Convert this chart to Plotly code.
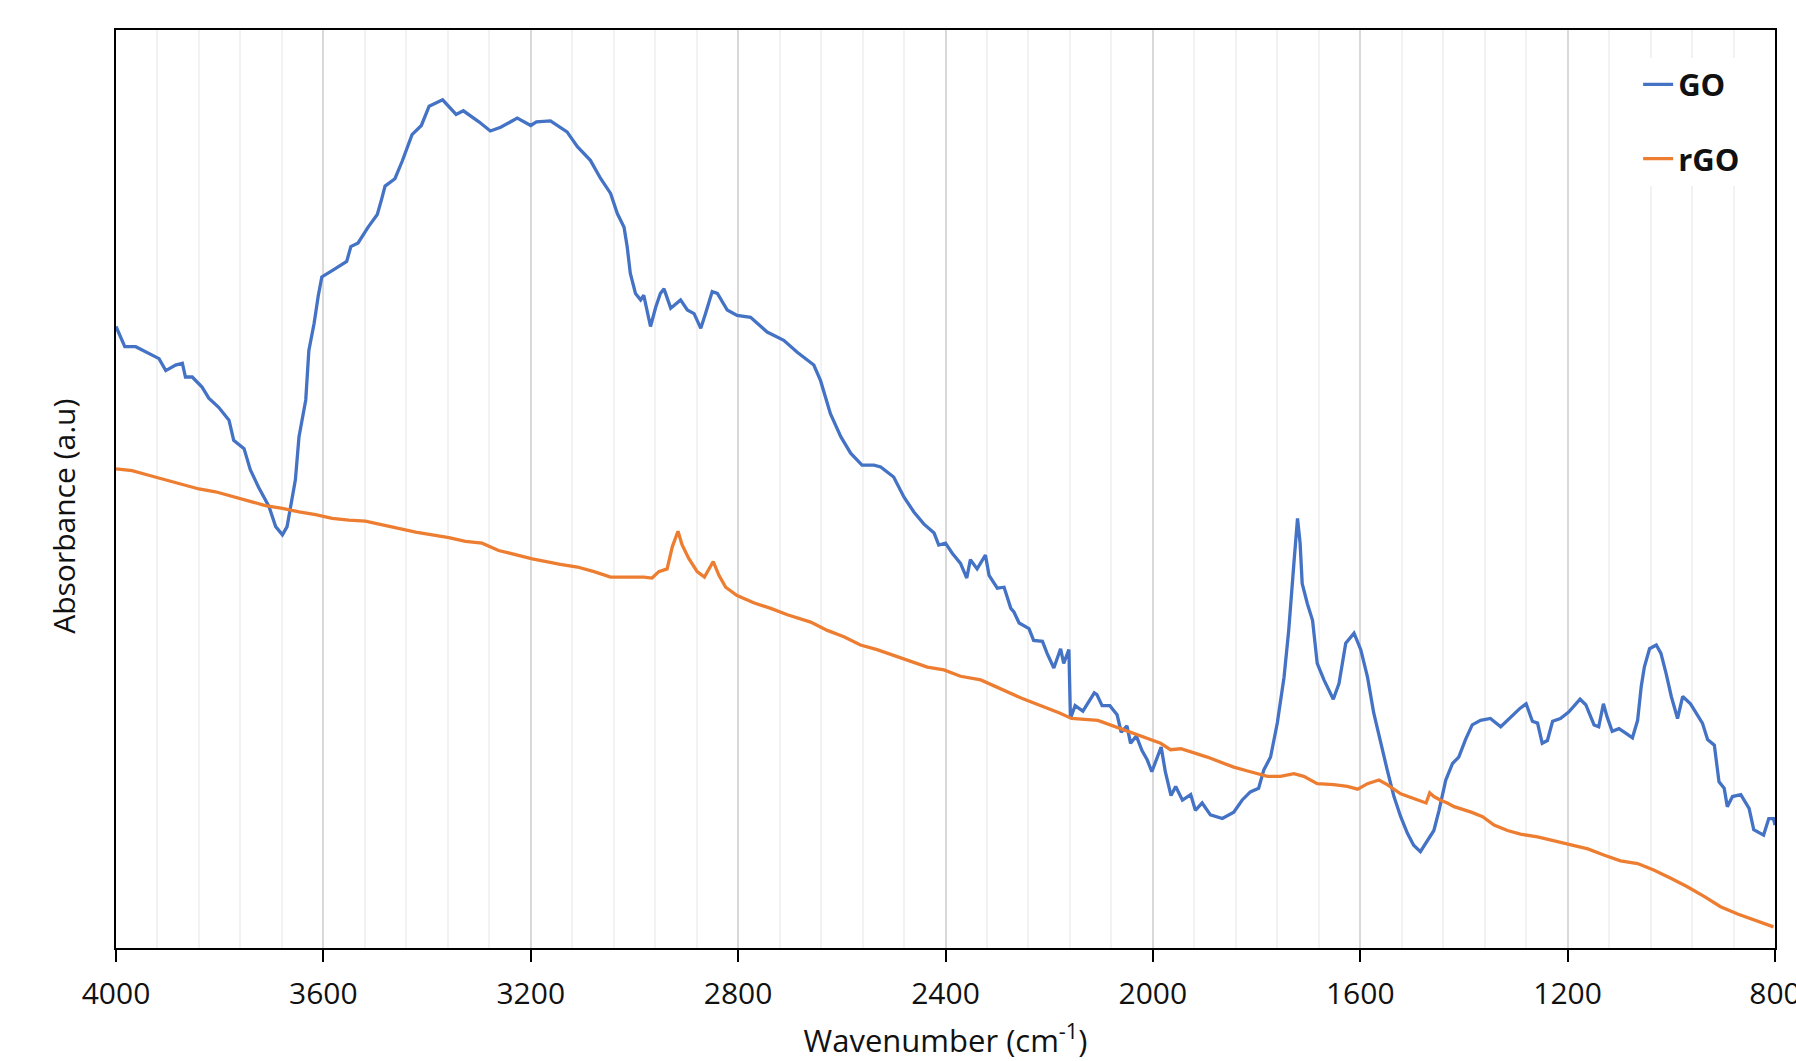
import plotly.graph_objects as go

# ---- data ----
go_wavenumber = [4000, 3988, 3983, 3962, 3937, 3917, 3904, 3885, 3872, 3866, 3853, 3834, 3821, 3802, 3782,
                 3773, 3753, 3741, 3725, 3705, 3692, 3679, 3670, 3654, 3647, 3634, 3628, 3618, 3610, 3603,
                 3580, 3555, 3547, 3533, 3514, 3496, 3488, 3481, 3462, 3448, 3429, 3411, 3396, 3370, 3344,
                 3330, 3300, 3278, 3258, 3226, 3200, 3189, 3162, 3130, 3110, 3085, 3065, 3046, 3033, 3020,
                 3014, 3008, 2998, 2988, 2982, 2969, 2959, 2950, 2943, 2930, 2911, 2898, 2885, 2872, 2863,
                 2850, 2840, 2821, 2802, 2776, 2744, 2712, 2686, 2654, 2641, 2631, 2622, 2602, 2583, 2561,
                 2538, 2525, 2500, 2480, 2461, 2442, 2422, 2413, 2400, 2387, 2371, 2359, 2352, 2339, 2323,
                 2316, 2300, 2287, 2274, 2268, 2258, 2239, 2230, 2213, 2204, 2191, 2178, 2172, 2162, 2159,
                 2150, 2135, 2113, 2108, 2098, 2083, 2069, 2061, 2050, 2043, 2032, 2021, 2011, 2002, 1992,
                 1984, 1976, 1965, 1956, 1943, 1927, 1918, 1905, 1889, 1866, 1844, 1828, 1812, 1796, 1786,
                 1773, 1760, 1747, 1738, 1728, 1721, 1716, 1712, 1702, 1692, 1683, 1670, 1652, 1641, 1628,
                 1612, 1599, 1586, 1574, 1561, 1548, 1535, 1522, 1509, 1497, 1484, 1471, 1458, 1448, 1435,
                 1422, 1410, 1397, 1384, 1368, 1349, 1329, 1310, 1292, 1280, 1268, 1258, 1249, 1239, 1229,
                 1214, 1198, 1176, 1165, 1149, 1140, 1131, 1124, 1114, 1101, 1088, 1075, 1065, 1058, 1052,
                 1042, 1029, 1020, 1010, 1000, 988, 978, 963, 950, 940, 930, 917, 908, 898, 892,
                 882, 866, 850, 841, 822, 812, 803, 800]
go_absorbance = [0.677, 0.662, 0.655, 0.655, 0.648, 0.642, 0.629, 0.635, 0.637, 0.622, 0.622, 0.611, 0.599, 0.589, 0.575,
                 0.553, 0.544, 0.521, 0.502, 0.481, 0.459, 0.450, 0.459, 0.510, 0.557, 0.597, 0.651, 0.680, 0.710, 0.731,
                 0.739, 0.748, 0.764, 0.768, 0.785, 0.799, 0.815, 0.830, 0.838, 0.857, 0.886, 0.896, 0.917, 0.924, 0.908,
                 0.912, 0.900, 0.890, 0.894, 0.904, 0.896, 0.900, 0.901, 0.889, 0.873, 0.858, 0.838, 0.822, 0.800, 0.785,
                 0.764, 0.735, 0.713, 0.706, 0.711, 0.677, 0.698, 0.713, 0.718, 0.697, 0.706, 0.695, 0.691, 0.675, 0.691,
                 0.715, 0.713, 0.695, 0.689, 0.687, 0.671, 0.662, 0.649, 0.635, 0.618, 0.600, 0.582, 0.557, 0.539, 0.526,
                 0.526, 0.524, 0.513, 0.491, 0.475, 0.462, 0.452, 0.439, 0.441, 0.430, 0.419, 0.403, 0.423, 0.413, 0.428,
                 0.406, 0.392, 0.393, 0.370, 0.366, 0.354, 0.348, 0.335, 0.334, 0.321, 0.305, 0.326, 0.310, 0.325, 0.250,
                 0.264, 0.258, 0.278, 0.276, 0.264, 0.264, 0.254, 0.235, 0.242, 0.223, 0.231, 0.215, 0.205, 0.192, 0.208,
                 0.219, 0.192, 0.166, 0.176, 0.161, 0.167, 0.150, 0.158, 0.145, 0.141, 0.148, 0.161, 0.170, 0.174, 0.194,
                 0.208, 0.245, 0.295, 0.346, 0.419, 0.468, 0.441, 0.397, 0.375, 0.357, 0.310, 0.292, 0.271, 0.288, 0.332,
                 0.343, 0.325, 0.295, 0.256, 0.223, 0.194, 0.165, 0.143, 0.125, 0.112, 0.105, 0.116, 0.128, 0.150, 0.183,
                 0.201, 0.208, 0.227, 0.243, 0.248, 0.250, 0.241, 0.251, 0.261, 0.266, 0.247, 0.245, 0.223, 0.226, 0.247,
                 0.250, 0.257, 0.271, 0.265, 0.243, 0.241, 0.266, 0.252, 0.236, 0.239, 0.234, 0.229, 0.248, 0.285, 0.306,
                 0.326, 0.330, 0.321, 0.299, 0.274, 0.250, 0.274, 0.266, 0.254, 0.245, 0.227, 0.221, 0.181, 0.174, 0.154,
                 0.165, 0.167, 0.152, 0.129, 0.123, 0.141, 0.141, 0.134]

rgo_wavenumber = [4000, 3969, 3937, 3904, 3872, 3840, 3808, 3776, 3744, 3712, 3679, 3647, 3615, 3583, 3551,
                  3519, 3486, 3454, 3422, 3390, 3358, 3326, 3294, 3262, 3229, 3197, 3143, 3110, 3078, 3046,
                  3014, 2982, 2966, 2953, 2937, 2927, 2916, 2908, 2895, 2879, 2865, 2856, 2848, 2837, 2824,
                  2802, 2770, 2737, 2705, 2660, 2628, 2596, 2564, 2532, 2500, 2467, 2435, 2403, 2371, 2332,
                  2253, 2180, 2157, 2106, 2032, 1985, 1966, 1946, 1895, 1844, 1812, 1779, 1754, 1728, 1709,
                  1683, 1651, 1625, 1605, 1586, 1564, 1548, 1522, 1490, 1473, 1466, 1458, 1445, 1432, 1419,
                  1386, 1364, 1342, 1316, 1291, 1258, 1226, 1194, 1161, 1129, 1098, 1065, 1034, 1001, 970,
                  936, 905, 872, 841, 803]
rgo_absorbance = [0.522, 0.520, 0.515, 0.510, 0.505, 0.500, 0.497, 0.492, 0.487, 0.482, 0.479, 0.475, 0.472, 0.468, 0.466,
                  0.465, 0.461, 0.457, 0.453, 0.450, 0.447, 0.443, 0.441, 0.433, 0.428, 0.424, 0.418, 0.415, 0.410, 0.404,
                  0.404, 0.404, 0.403, 0.410, 0.413, 0.437, 0.454, 0.439, 0.424, 0.410, 0.404, 0.413, 0.421, 0.406, 0.393,
                  0.384, 0.376, 0.370, 0.363, 0.355, 0.346, 0.339, 0.330, 0.325, 0.319, 0.312, 0.306, 0.303, 0.296, 0.292,
                  0.272, 0.256, 0.250, 0.248, 0.233, 0.223, 0.216, 0.217, 0.208, 0.197, 0.192, 0.187, 0.187, 0.190, 0.187,
                  0.179, 0.178, 0.176, 0.173, 0.179, 0.183, 0.178, 0.168, 0.161, 0.158, 0.169, 0.165, 0.161, 0.158, 0.154,
                  0.148, 0.143, 0.134, 0.128, 0.124, 0.121, 0.117, 0.113, 0.108, 0.101, 0.095, 0.092, 0.085, 0.076, 0.067,
                  0.056, 0.045, 0.037, 0.031, 0.023]

x_ticks = [4000, 3600, 3200, 2800, 2400, 2000, 1600, 1200, 800]
x_tick_labels = [str(v) for v in x_ticks]

FONT = "Open Sans"

fig = go.Figure()
fig.add_trace(go.Scatter(x=go_wavenumber, y=go_absorbance, mode="lines", name="GO",
                         legendgroup="a", line=dict(color="#4472C4", width=3.3)))
fig.add_trace(go.Scatter(x=rgo_wavenumber, y=rgo_absorbance, mode="lines", name="rGO",
                         legendgroup="b", line=dict(color="#ED7D31", width=3.3)))

fig.update_layout(
    width=1796, height=1061,
    margin=dict(l=115.5, r=21.4, t=29.6, b=113, autoexpand=False),
    plot_bgcolor="white", paper_bgcolor="white",
    font=dict(family=FONT, size=30, color="#111111"),
    showlegend=True,
    legend=dict(x=0.9175, y=0.9698, xanchor="left", yanchor="top", bgcolor="white",
                borderwidth=0, tracegroupgap=31,
                font=dict(family=FONT, size=31, color="#111111", weight="bold")),
    xaxis=dict(
        range=[4000, 800], tickmode="array", tickvals=x_ticks, ticktext=x_tick_labels,
        ticks="outside", ticklen=12, tickwidth=2, tickcolor="black",
        ticklabelstandoff=6, ticklabeloverflow="allow", automargin=False,
        showline=True, linecolor="black", linewidth=2, mirror=True,
        showgrid=True, gridcolor="#D9D9D9", gridwidth=2, zeroline=False,
        minor=dict(tick0=800, dtick=80, showgrid=True, gridcolor="#F2F2F2", gridwidth=2, ticks=""),
        title=dict(text="Wavenumber (cm<sup>-1</sup>)", standoff=22, font=dict(size=31)),
        tickfont=dict(size=30),
    ),
    yaxis=dict(
        range=[0, 1], showticklabels=False, ticks="", showgrid=False, zeroline=False,
        showline=True, linecolor="black", linewidth=2, mirror=True, automargin=False,
    ),
    annotations=[dict(text="Absorbance (a.u)", xref="paper", yref="paper",
                      x=-0.0316, y=0.4704, xanchor="center", yanchor="middle",
                      textangle=-90, showarrow=False, font=dict(family=FONT, size=30, color="#111111"))],
)

fig.write_html("out.html", config={"displayModeBar": False},
               post_script="document.body.style.margin='0';document.body.style.overflow='hidden';")
